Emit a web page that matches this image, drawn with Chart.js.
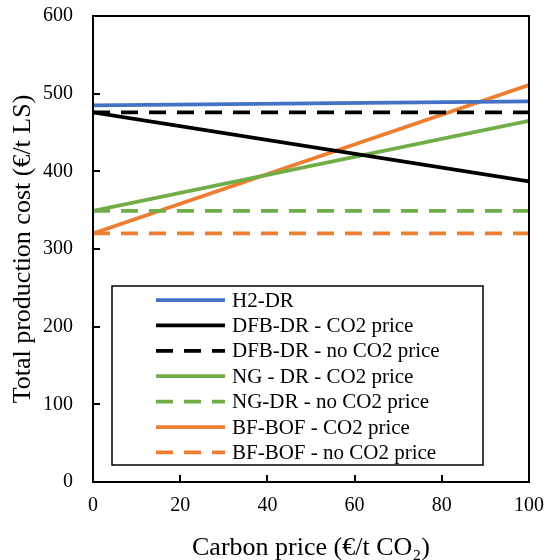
<!DOCTYPE html>
<html>
<head>
<meta charset="utf-8">
<script src="https://cdn.jsdelivr.net/npm/chart.js@4.4.1/dist/chart.umd.min.js"></script>
<style>
  html, body { margin: 0; padding: 0; background: #fff; }
  #wrap { width: 545px; height: 560px; }
</style>
</head>
<body>
<div id="wrap"><canvas id="cost-chart"></canvas></div>
<script>
// carbon price range (€/t CO2)
const carbonPrice = [0, 100];

// total production cost (€/t LS) at each end of the range
const h2Dr = [485, 490];
const dfbDrCo2 = [476, 387];
const dfbDrNoCo2 = [476, 476];
const ngDrCo2 = [349, 465];
const ngDrNoCo2 = [349, 349];
const bfBofCo2 = [320, 511];
const bfBofNoCo2 = [320, 320];

const yTicks = [0, 100, 200, 300, 400, 500, 600];
const xTicks = [0, 20, 40, 60, 80, 100];

const BLUE = '#4472c4';
const BLACK = '#000000';
const GREEN = '#70ad47';
const ORANGE = '#ed7d31';
const DASH = [17, 11];
const LINE_W = 3.75;
const FONT = '"Liberation Serif", "Times New Roman", serif';

function series(label, values, color, dashed) {
  return {
    label: label,
    data: carbonPrice.map((x, i) => ({ x: x, y: values[i] })),
    borderColor: color,
    backgroundColor: color,
    borderWidth: LINE_W,
    borderDash: dashed ? DASH : [],
    pointRadius: 0,
    tension: 0
  };
}

// plot frame, inward tick marks and the boxed legend inside the plot
const framePlugin = {
  id: 'frame',
  afterDatasetsDraw(chart) {
    const ctx = chart.ctx;
    const a = chart.chartArea;
    const xs = chart.scales.x, ys = chart.scales.y;
    ctx.save();
    ctx.strokeStyle = '#000';
    ctx.lineWidth = 2;
    ctx.strokeRect(a.left, a.top, a.right - a.left, a.bottom - a.top);
    ctx.beginPath();
    yTicks.forEach(v => {
      const p = Math.round(ys.getPixelForValue(v));
      ctx.moveTo(a.left, p);
      ctx.lineTo(a.left + 7, p);
    });
    xTicks.forEach(v => {
      const p = Math.round(xs.getPixelForValue(v));
      ctx.moveTo(p, a.bottom);
      ctx.lineTo(p, a.bottom - 7);
    });
    ctx.stroke();

    // legend
    const bx = 112, by = 286, bw = 371, bh = 179;
    ctx.fillStyle = '#fff';
    ctx.fillRect(bx, by, bw, bh);
    ctx.lineWidth = 1.5;
    ctx.strokeRect(bx, by, bw, bh);
    ctx.font = '21px ' + FONT;
    ctx.textBaseline = 'middle';
    ctx.textAlign = 'left';
    chart.data.datasets.forEach((ds, i) => {
      const y = 300 + i * 25.4;
      ctx.beginPath();
      ctx.strokeStyle = ds.borderColor;
      ctx.lineWidth = LINE_W;
      ctx.setLineDash(ds.borderDash);
      ctx.moveTo(156, y);
      ctx.lineTo(225, y);
      ctx.stroke();
      ctx.setLineDash([]);
      ctx.fillStyle = '#000';
      ctx.fillText(ds.label, 232, y + 1);
    });
    ctx.restore();
  }
};

new Chart(document.getElementById('cost-chart'), {
  type: 'line',
  data: {
    datasets: [
      series('H2-DR', h2Dr, BLUE, false),
      series('DFB-DR - CO2 price', dfbDrCo2, BLACK, false),
      series('DFB-DR - no CO2 price', dfbDrNoCo2, BLACK, true),
      series('NG - DR - CO2 price', ngDrCo2, GREEN, false),
      series('NG-DR - no CO2 price', ngDrNoCo2, GREEN, true),
      series('BF-BOF - CO2 price', bfBofCo2, ORANGE, false),
      series('BF-BOF - no CO2 price', bfBofNoCo2, ORANGE, true)
    ]
  },
  options: {
    responsive: true,
    maintainAspectRatio: false,
    animation: false,
    layout: { padding: { top: 16, right: 16, left: 0, bottom: 0 } },
    plugins: {
      legend: { display: false },
      tooltip: { enabled: false }
    },
    scales: {
      x: {
        type: 'linear',
        min: 0,
        max: 100,
        afterBuildTicks: s => { s.ticks = xTicks.map(v => ({ value: v })); },
        afterFit: s => { s.height = 78; s.paddingLeft = 0; s.paddingRight = 0; },
        grid: { drawOnChartArea: false, drawTicks: false },
        border: { display: false },
        ticks: { color: '#000', font: { family: FONT, size: 20 }, padding: 12 },
        title: {
          display: true,
          text: 'Carbon price (€/t CO₂)',
          color: '#000',
          font: { family: FONT, size: 26 },
          padding: { top: 17, bottom: -4 }
        }
      },
      y: {
        min: 0,
        max: 600,
        afterBuildTicks: s => { s.ticks = yTicks.map(v => ({ value: v })); },
        afterFit: s => { s.width = 93; s.paddingTop = 0; s.paddingBottom = 0; },
        grid: { drawOnChartArea: false, drawTicks: false },
        border: { display: false },
        ticks: { color: '#000', font: { family: FONT, size: 20 }, padding: 20 },
        title: {
          display: true,
          text: 'Total production cost (€/t LS)',
          color: '#000',
          font: { family: FONT, size: 26 },
          padding: { top: 8, bottom: 0 }
        }
      }
    }
  },
  plugins: [framePlugin]
});
</script>
</body>
</html>
